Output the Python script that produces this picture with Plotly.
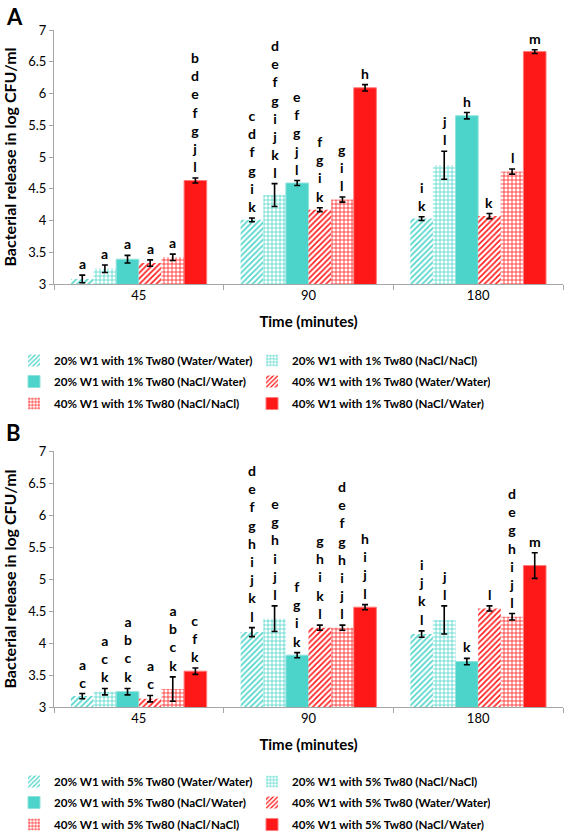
import plotly.graph_objects as go

categories = ["45", "90", "180"]

names_a = [
    "20% W1 with 1% Tw80 (Water/Water)",
    "20% W1 with 1% Tw80 (NaCl/NaCl)",
    "20% W1 with 1% Tw80 (NaCl/Water)",
    "40% W1 with 1% Tw80 (Water/Water)",
    "40% W1 with 1% Tw80 (NaCl/NaCl)",
    "40% W1 with 1% Tw80 (NaCl/Water)",
]
names_b = [n.replace("1% Tw80", "5% Tw80") for n in names_a]

# Panel A values (per series across 45, 90, 180)
vals_a = [
    [3.08, 4.01, 4.03],
    [3.24, 4.40, 4.87],
    [3.39, 4.59, 5.65],
    [3.33, 4.17, 4.07],
    [3.42, 4.33, 4.77],
    [4.63, 6.09, 6.66],
]
errs_a = [
    [0.06, 0.03, 0.03],
    [0.06, 0.18, 0.22],
    [0.06, 0.04, 0.05],
    [0.05, 0.03, 0.04],
    [0.05, 0.04, 0.04],
    [0.04, 0.05, 0.03],
]
letters_a = [
    ["a", "c d f g i k", "i k"],
    ["a", "d e f g i j k l", "j l"],
    ["a", "e f g j l", "h"],
    ["a", "f g i k", "k"],
    ["a", "g i l", "l"],
    ["b d e f g j l", "h", "m"],
]

# Panel B values
vals_b = [
    [3.17, 4.17, 4.14],
    [3.24, 4.38, 4.36],
    [3.24, 3.81, 3.71],
    [3.13, 4.24, 4.54],
    [3.28, 4.24, 4.41],
    [3.56, 4.56, 5.21],
]
errs_b = [
    [0.04, 0.07, 0.05],
    [0.05, 0.20, 0.22],
    [0.05, 0.04, 0.05],
    [0.05, 0.04, 0.04],
    [0.19, 0.04, 0.05],
    [0.05, 0.04, 0.20],
]
letters_b = [
    ["a c", "d e f g h i j k l", "i j k l"],
    ["a c k", "e g h i j l", "j l"],
    ["a b c k", "f g i k", "k"],
    ["a c", "g h i k l", "l"],
    ["a b c k", "d e f g h i j l", "d e g h i j l"],
    ["c f k", "h i j l", "m"],
]

TURQ = "#4dd4ca"
RED = "#ff1818"
colors = [TURQ, TURQ, TURQ, RED, RED, RED]
patterns = ["/", "+", "", "/", "+", ""]
FONT = "Lato"

W, H = 567, 836
x0, x1 = 54, 563
domA = [(H - 284) / H, (H - 30) / H]
domB = [(H - 707) / H, (H - 451) / H]
xdom = [x0 / W, x1 / W]
bargap = 0.2
bar_px = (x1 - x0) / len(categories) * (1 - bargap) / len(names_a)

# legend rows (two entries per row), top pixel of each row
legend_rows_a = [346, 367, 389]
legend_rows_b = [767, 788, 810]

fig = go.Figure()


def add_panel(names, vals, errs, letters, xa, ya, legend_ids):
    for i, name in enumerate(names):
        pat = patterns[i]
        if pat:
            marker = dict(
                color=colors[i],
                pattern=dict(shape=pat, fillmode="replace", bgcolor="white",
                             size=4, solidity=0.35 if pat == "+" else 0.4),
                line=dict(width=0),
            )
        else:
            marker = dict(color=colors[i], line=dict(color="#ff7a7a" if colors[i] == RED else "#8fe3dc", width=1))
        fig.add_trace(go.Bar(
            x=categories, y=vals[i], name=name, marker=marker,
            error_y=dict(type="data", array=errs[i], color="black", thickness=1.6, width=3),
            xaxis=xa, yaxis=ya, legend=legend_ids[i // 2],
        ))
        for j, cat in enumerate(categories):
            fig.add_annotation(
                x=j, y=vals[i][j] + errs[i][j], xref=xa, yref=ya,
                text="<br>".join(letters[i][j].split()),
                showarrow=False, yanchor="bottom", xanchor="center",
                xshift=(i - (len(names) - 1) / 2) * bar_px, yshift=1,
                font=dict(family=FONT, size=14, color="black", weight="bold"),
            )


ids_a = ["legend", "legend2", "legend3"]
ids_b = ["legend4", "legend5", "legend6"]
add_panel(names_a, vals_a, errs_a, letters_a, "x", "y", ids_a)
add_panel(names_b, vals_b, errs_b, letters_b, "x2", "y2", ids_b)

xaxis_common = dict(
    type="category", range=[-0.5, len(categories) - 0.5], automargin=False,
    showline=True, linecolor="#a6a6a6", linewidth=1, ticks="outside", tickson="boundaries",
    ticklen=5, tickcolor="#a6a6a6", tickfont=dict(family=FONT, size=13, color="black"),
    ticklabelstandoff=-1,
    title=dict(text="Time (minutes)", font=dict(family=FONT, size=15, color="black", weight="bold"), standoff=14),
    domain=xdom, showgrid=False, zeroline=False,
)
yaxis_common = dict(
    range=[3, 7], dtick=0.5, automargin=False, showline=True, linecolor="#a6a6a6", linewidth=1, ticks="outside",
    ticklen=4, tickcolor="#a6a6a6", tickfont=dict(family=FONT, size=13, color="black"),
    title=dict(text="Bacterial release in log CFU/ml", font=dict(family=FONT, size=16, color="black", weight="bold"), standoff=12),
    showgrid=False, zeroline=False,
)

legend_common = dict(
    orientation="h", font=dict(family=FONT, size=11.6, color="black", weight="bold"),
    entrywidth=193, entrywidthmode="pixels", itemwidth=30, xanchor="left", yanchor="top",
    bgcolor="rgba(0,0,0,0)", tracegroupgap=0,
)

legends = {}
for lid, top in zip(ids_a + ids_b, legend_rows_a + legend_rows_b):
    legends[lid] = dict(x=14 / W, y=(H - top) / H, **legend_common)

fig.update_layout(
    width=W, height=H, margin=dict(l=0, r=0, t=0, b=0, autoexpand=False),
    plot_bgcolor="white", paper_bgcolor="white",
    barmode="group", bargap=bargap, bargroupgap=0,
    xaxis=dict(anchor="y", **xaxis_common),
    yaxis=dict(domain=domA, anchor="x", **yaxis_common),
    xaxis2=dict(anchor="y2", **xaxis_common),
    yaxis2=dict(domain=domB, anchor="x2", **yaxis_common),
    showlegend=True,
    annotations=list(fig.layout.annotations) + [
        dict(text="A", x=4 / W, y=1 - 1 / H, xref="paper", yref="paper", xanchor="left", yanchor="top",
             showarrow=False, font=dict(family=FONT, size=22, color="black", weight="bold")),
        dict(text="B", x=4 / W, y=1 - 417 / H, xref="paper", yref="paper", xanchor="left", yanchor="top",
             showarrow=False, font=dict(family=FONT, size=22, color="black", weight="bold")),
    ],
    **legends,
)

fig.write_html("out.html", config={"displayModeBar": False},
               post_script="document.body.style.margin='0';")
